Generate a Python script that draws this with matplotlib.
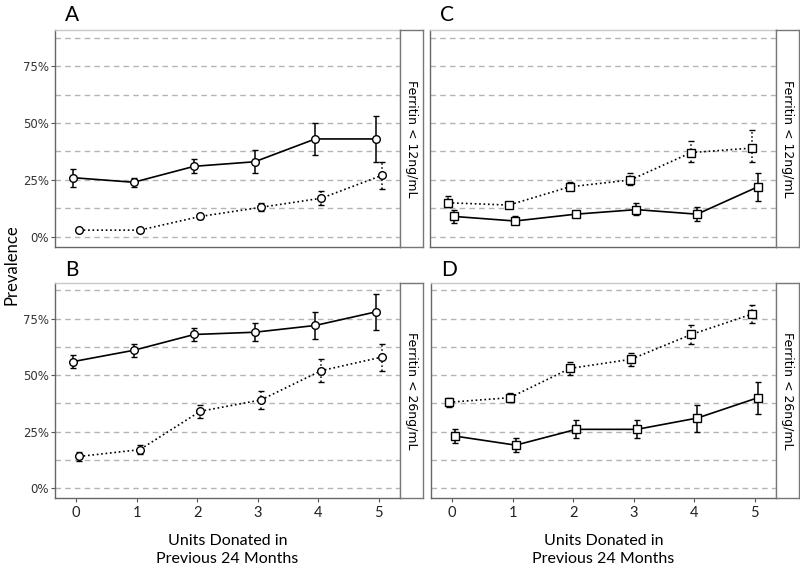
import matplotlib.pyplot as plt
import numpy as np

units = [0, 1, 2, 3, 4, 5]
yticks = [0, 0.25, 0.5, 0.75]
ytick_labels = ['0%', '25%', '50%', '75%']
strip_labels = ['Ferritin < 12ng/mL', 'Ferritin < 26ng/mL']

# panel A (circles), ferritin < 12
a_solid = [26, 24, 31, 33, 43, 43]
a_solid_lo = [22, 22, 28, 28, 36, 33]
a_solid_hi = [30, 26, 34, 38, 50, 53]
a_dot = [3, 3, 9, 13, 17, 27]
a_dot_lo = [2.5, 2.5, 8, 11.5, 14, 21]
a_dot_hi = [3.5, 3.5, 10, 15, 20, 33]

# panel B (circles), ferritin < 26
b_solid = [56, 61, 68, 69, 72, 78]
b_solid_lo = [53, 58, 65, 65, 66, 70]
b_solid_hi = [59, 64, 71, 73, 78, 86]
b_dot = [14, 17, 34, 39, 52, 58]
b_dot_lo = [12, 15, 31, 35, 47, 52]
b_dot_hi = [16, 19, 37, 43, 57, 64]

# panel C (squares), ferritin < 12
c_solid = [9, 7, 10, 12, 10, 22]
c_solid_lo = [6, 6, 9, 9.5, 7, 16]
c_solid_hi = [12, 9, 11, 15, 13, 28]
c_dot = [15, 14, 22, 25, 37, 39]
c_dot_lo = [13, 13.5, 21, 23, 33, 33]
c_dot_hi = [18, 15.5, 24, 28, 42, 47]

# panel D (squares), ferritin < 26
d_solid = [23, 19, 26, 26, 31, 40]
d_solid_lo = [20, 16, 22, 22, 25, 33]
d_solid_hi = [26, 22, 30, 30, 37, 47]
d_dot = [38, 40, 53, 57, 68, 77]
d_dot_lo = [36, 38, 50, 54, 64, 73]
d_dot_hi = [40, 42, 56, 60, 72, 81]

panels = [
    ('A', 'o', (a_solid, a_solid_lo, a_solid_hi), (a_dot, a_dot_lo, a_dot_hi), -0.05, 0.05, 0),
    ('B', 'o', (b_solid, b_solid_lo, b_solid_hi), (b_dot, b_dot_lo, b_dot_hi), -0.05, 0.05, 1),
    ('C', 's', (c_solid, c_solid_lo, c_solid_hi), (c_dot, c_dot_lo, c_dot_hi), 0.05, -0.05, 0),
    ('D', 's', (d_solid, d_solid_lo, d_solid_hi), (d_dot, d_dot_lo, d_dot_hi), 0.05, -0.05, 1),
]

W, H = 800, 567
fig = plt.figure(figsize=(8, 5.67), dpi=100)

def box(x0, y0, x1, y1):
    return [x0 / W, 1 - y1 / H, (x1 - x0) / W, (y1 - y0) / H]

ax_boxes = {'A': (55, 30, 400, 247), 'B': (55, 283, 400, 498),
            'C': (430, 30, 776, 247), 'D': (431, 283, 776, 498)}
strip_boxes = {'A': (400, 30, 423, 247), 'B': (400, 283, 423, 498),
               'C': (776, 30, 799, 247), 'D': (776, 283, 799, 498)}
letter_y = {0: 5, 1: 260}

def draw_series(ax, x, vals, lo, hi, marker, ls):
    y = np.array(vals) / 100
    err = [y - np.array(lo) / 100, np.array(hi) / 100 - y]
    eb = ax.errorbar(x, y, yerr=err, fmt='none', ecolor='black', elinewidth=1.1,
                     capsize=2, capthick=1.0, zorder=3)
    if ls == ':':
        for lc in eb[2]:
            lc.set_linestyle(':')
    ax.plot(x, y, color='black', linestyle=ls, lw=1.2, zorder=3)
    ax.plot(x, y, linestyle='none', marker=marker, ms=5.5,
            mfc='white', mec='black', mew=1.0, zorder=4)

for name, marker, solid, dot, off_s, off_d, row in panels:
    ax = fig.add_axes(box(*ax_boxes[name]))
    ax.set_xlim(-0.35, 5.35)
    ax.set_ylim(-0.044, 0.908)
    for g in np.arange(0, 0.9, 0.125):
        ax.axhline(g, color='#b4b4b4', lw=1.0, ls=(0, (4, 3)), zorder=1)
    x = np.array(units)
    draw_series(ax, x + off_s, *solid, marker, '-')
    draw_series(ax, x + off_d, *dot, marker, ':')

    for s in ['top', 'right']:
        ax.spines[s].set_color('#c8c8c8')
    for s in ['left', 'bottom']:
        ax.spines[s].set_color('#666666')
    for s in ax.spines.values():
        s.set_linewidth(1.0)

    ax.set_yticks(yticks)
    if name in ('A', 'B'):
        ax.set_yticklabels(ytick_labels, fontsize=8.5, color='#333333')
        ax.tick_params(axis='y', length=3, color='#555555', pad=1.5)
    else:
        ax.set_yticklabels([])
        ax.tick_params(axis='y', length=0)
    ax.set_xticks(units)
    x0, y0, x1, y1 = ax_boxes[name]
    if row == 1:
        ax.set_xticklabels([str(u) for u in units], fontsize=10.5, color='#222222',
                           family='Lato')
        ax.tick_params(axis='x', length=3, color='#555555', pad=3)
        fig.text((x0 + x1) / 2 / W, 1 - 550 / H, 'Units Donated in\nPrevious 24 Months',
                 fontsize=11.5, family='Lato', ha='center', va='center',
                 linespacing=1.35)
    else:
        ax.set_xticklabels([])
        ax.tick_params(axis='x', length=0)

    fig.text((x0 + 10) / W, 1 - letter_y[row] / H, name, fontsize=15, family='Lato',
             va='top', ha='left')

    sax = fig.add_axes(box(*strip_boxes[name]))
    sax.set_xticks([])
    sax.set_yticks([])
    for s in sax.spines.values():
        s.set_color('#777777')
        s.set_linewidth(1.0)
    sax.text(0.5, 0.5, strip_labels[row], rotation=-90, ha='center', va='center',
             fontsize=9, transform=sax.transAxes)

fig.text(4 / W, 1 - 265 / H, 'Prevalence', rotation=90, fontsize=12, family='Lato',
         ha='left', va='center')

fig.savefig('out.png', dpi=100)
